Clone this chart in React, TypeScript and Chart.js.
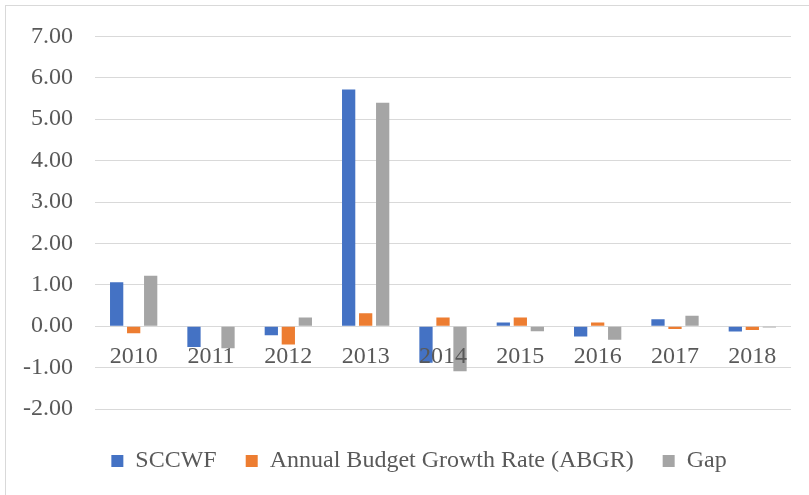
import React, { useEffect, useRef } from "react";
import { Chart, registerables } from "chart.js";

Chart.register(...registerables);

const categories = ["2010", "2011", "2012", "2013", "2014", "2015", "2016", "2017", "2018"];
const sccwf = [1.06, -0.5, -0.22, 5.72, -0.88, 0.09, -0.25, 0.17, -0.13];
const abgr = [-0.17, 0.01, -0.44, 0.31, 0.21, 0.21, 0.09, -0.07, -0.09];
const gap = [1.22, -0.53, 0.21, 5.4, -1.09, -0.12, -0.33, 0.25, -0.03];
const seriesNames = ["SCCWF", "Annual Budget Growth Rate (ABGR)", "Gap"];
const seriesColors = ["#4472C4", "#ED7D31", "#A5A5A5"];
const yMin = -2;
const yMax = 7;

const FONT = "'Liberation Serif', 'Times New Roman', serif";
const TEXT = "#595959";

const legendShift = {
  id: "legendShift",
  afterLayout(chart: any) {
    if (chart.legend) {
      chart.legend.left += 12;
      chart.legend.right += 12;
    }
  },
};

export default function App() {
  const ref = useRef<HTMLCanvasElement | null>(null);

  useEffect(() => {
    document.body.style.margin = "0";
    const canvas = ref.current;
    if (!canvas) return;
    const chart = new Chart(canvas, {
      type: "bar",
      data: {
        labels: categories,
        datasets: [sccwf, abgr, gap].map((d, i) => ({
          label: seriesNames[i],
          data: d,
          backgroundColor: seriesColors[i],
          borderWidth: 0,
          categoryPercentage: 0.66,
          barPercentage: 0.78,
        })),
      },
      plugins: [legendShift],
      options: {
        animation: false,
        responsive: false,
        maintainAspectRatio: false,
        layout: { padding: { left: 23, right: 18, top: 21, bottom: 12 } },
        plugins: {
          tooltip: { enabled: false },
          legend: {
            position: "bottom",
            labels: {
              boxWidth: 12,
              boxHeight: 12,
              padding: 29,
              color: TEXT,
              font: { family: FONT, size: 24 },
            },
          },
        },
        scales: {
          x: {
            position: { y: 0 } as any,
            grid: { display: false },
            border: { display: false },
            ticks: {
              z: 1,
              color: TEXT,
              font: { family: FONT, size: 24 },
              padding: 8,
              maxRotation: 0,
            },
          },
          x2: {
            type: "category",
            position: "bottom",
            grid: { display: false },
            border: { display: false },
            ticks: { display: false },
            afterFit: (s: any) => {
              s.height = 11;
            },
          },
          y: {
            min: yMin,
            max: yMax,
            grid: { color: "#D9D9D9", lineWidth: 1, drawTicks: false },
            border: { display: false },
            ticks: {
              stepSize: 1,
              color: TEXT,
              font: { family: FONT, size: 24 },
              padding: 22,
              callback: (v: any) => Number(v).toFixed(2),
            },
            afterFit: (s: any) => {
              s.width = 72;
            },
          },
        },
      },
    });
    return () => chart.destroy();
  }, []);

  return (
    <div style={{ position: "relative", width: 809, height: 495, background: "#fff", overflow: "hidden" }}>
      <div
        style={{
          position: "absolute",
          left: 5,
          top: 5,
          width: 820,
          height: 520,
          border: "1px solid #D9D9D9",
          boxSizing: "border-box",
        }}
      />
      <canvas ref={ref} width={809} height={495} style={{ position: "absolute", left: 0, top: 0, display: "block" }} />
    </div>
  );
}
